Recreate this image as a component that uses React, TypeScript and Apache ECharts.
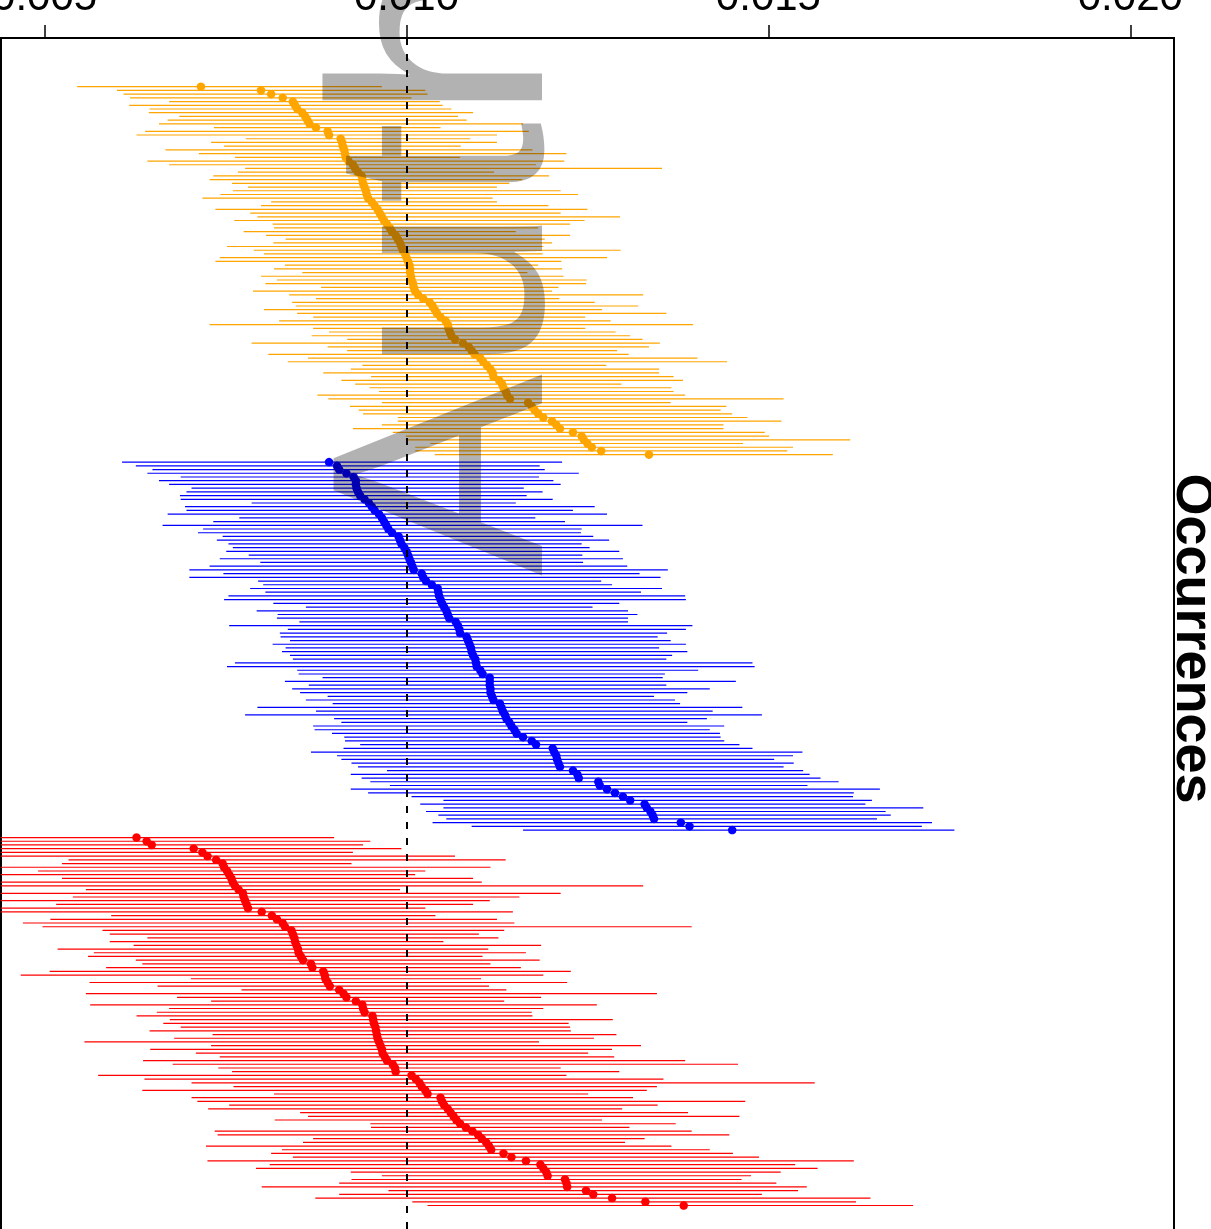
import React, { useEffect, useRef } from "react";
import * as echarts from "echarts";

// x-axis tick values and reference (true) value
const tickValues = [0.005, 0.01, 0.015, 0.02];
const trueValue = 0.01;

// Group 1 (orange): estimates and interval bounds, sorted by estimate
const orangeEst = [0.00716, 0.00799, 0.00813, 0.00829, 0.00843, 0.00846, 0.00849, 0.00856, 0.00860, 0.00863,
  0.00866, 0.00875, 0.00891, 0.00893, 0.00909, 0.00911, 0.00912, 0.00914, 0.00915, 0.00916,
  0.00920, 0.00926, 0.00929, 0.00933, 0.00938, 0.00939, 0.00940, 0.00942, 0.00944, 0.00945,
  0.00947, 0.00952, 0.00956, 0.00960, 0.00963, 0.00966, 0.00969, 0.00973, 0.00977, 0.00980,
  0.00985, 0.00988, 0.00991, 0.00993, 0.00995, 0.00998, 0.01000, 0.01002, 0.01004, 0.01005,
  0.01005, 0.01006, 0.01007, 0.01009, 0.01010, 0.01012, 0.01016, 0.01023, 0.01032, 0.01036,
  0.01039, 0.01042, 0.01047, 0.01054, 0.01057, 0.01058, 0.01060, 0.01062, 0.01067, 0.01078,
  0.01086, 0.01090, 0.01094, 0.01102, 0.01106, 0.01111, 0.01116, 0.01119, 0.01120, 0.01128,
  0.01132, 0.01134, 0.01137, 0.01139, 0.01143, 0.01168, 0.01173, 0.01177, 0.01182, 0.01189,
  0.01201, 0.01207, 0.01212, 0.01230, 0.01242, 0.01245, 0.01250, 0.01256, 0.01269, 0.01335];
const orangeLo = [0.00545, 0.00600, 0.00609, 0.00618, 0.00672, 0.00617, 0.00645, 0.00644, 0.00686, 0.00670,
  0.00658, 0.00734, 0.00639, 0.00627, 0.00778, 0.00730, 0.00748, 0.00667, 0.00713, 0.00763,
  0.00642, 0.00672, 0.00777, 0.00767, 0.00733, 0.00728, 0.00759, 0.00781, 0.00760, 0.00743,
  0.00718, 0.00813, 0.00799, 0.00736, 0.00784, 0.00794, 0.00762, 0.00815, 0.00817, 0.00775,
  0.00806, 0.00833, 0.00816, 0.00752, 0.00789, 0.00803, 0.00742, 0.00736, 0.00832, 0.00817,
  0.00856, 0.00799, 0.00821, 0.00805, 0.00882, 0.00788, 0.00838, 0.00875, 0.00842, 0.00847,
  0.00803, 0.00849, 0.00871, 0.00824, 0.00728, 0.00871, 0.00893, 0.00869, 0.00918, 0.00786,
  0.00891, 0.00918, 0.00809, 0.00864, 0.00836, 0.00939, 0.00923, 0.00885, 0.00951, 0.00910,
  0.00929, 0.00949, 0.00962, 0.00877, 0.00892, 0.00966, 0.00922, 0.00934, 0.00940, 0.00988,
  0.00988, 0.00966, 0.00926, 0.00981, 0.00999, 0.00999, 0.01033, 0.01012, 0.01012, 0.01039];
const orangeHi = [0.00966, 0.01026, 0.01029, 0.01007, 0.01046, 0.01050, 0.01062, 0.01092, 0.01071, 0.01083,
  0.01161, 0.01047, 0.01169, 0.01125, 0.01088, 0.01125, 0.01075, 0.01174, 0.01221, 0.01074,
  0.01218, 0.01179, 0.01353, 0.01121, 0.01197, 0.01160, 0.01142, 0.01125, 0.01213, 0.01237,
  0.01119, 0.01125, 0.01196, 0.01250, 0.01213, 0.01295, 0.01246, 0.01226, 0.01182, 0.01151,
  0.01226, 0.01191, 0.01201, 0.01189, 0.01296, 0.01188, 0.01277, 0.01214, 0.01182, 0.01215,
  0.01167, 0.01217, 0.01249, 0.01248, 0.01210, 0.01201, 0.01327, 0.01211, 0.01260, 0.01320,
  0.01270, 0.01359, 0.01247, 0.01282, 0.01396, 0.01247, 0.01289, 0.01309, 0.01326, 0.01350,
  0.01335, 0.01291, 0.01307, 0.01402, 0.01443, 0.01276, 0.01349, 0.01349, 0.01369, 0.01382,
  0.01297, 0.01366, 0.01369, 0.01385, 0.01521, 0.01365, 0.01442, 0.01434, 0.01450, 0.01471,
  0.01518, 0.01438, 0.01438, 0.01495, 0.01501, 0.01613, 0.01465, 0.01534, 0.01526, 0.01589];

// Group 2 (blue)
const blueEst = [0.00893, 0.00904, 0.00907, 0.00917, 0.00927, 0.00930, 0.00930, 0.00931, 0.00933, 0.00936,
  0.00942, 0.00948, 0.00952, 0.00956, 0.00962, 0.00966, 0.00969, 0.00972, 0.00975, 0.00980,
  0.00989, 0.00991, 0.00993, 0.00997, 0.01000, 0.01002, 0.01004, 0.01006, 0.01008, 0.01010,
  0.01021, 0.01023, 0.01027, 0.01035, 0.01043, 0.01044, 0.01045, 0.01047, 0.01049, 0.01052,
  0.01055, 0.01057, 0.01059, 0.01068, 0.01071, 0.01073, 0.01074, 0.01083, 0.01085, 0.01087,
  0.01089, 0.01090, 0.01092, 0.01095, 0.01096, 0.01097, 0.01102, 0.01105, 0.01115, 0.01115,
  0.01115, 0.01116, 0.01116, 0.01118, 0.01120, 0.01129, 0.01131, 0.01133, 0.01136, 0.01138,
  0.01142, 0.01145, 0.01149, 0.01152, 0.01161, 0.01173, 0.01179, 0.01202, 0.01204, 0.01207,
  0.01208, 0.01210, 0.01212, 0.01230, 0.01236, 0.01238, 0.01265, 0.01267, 0.01277, 0.01288,
  0.01299, 0.01309, 0.01329, 0.01332, 0.01337, 0.01340, 0.01342, 0.01379, 0.01391, 0.01450];
const blueLo = [0.00607, 0.00626, 0.00649, 0.00642, 0.00688, 0.00658, 0.00672, 0.00703, 0.00696, 0.00687,
  0.00688, 0.00786, 0.00694, 0.00696, 0.00670, 0.00769, 0.00733, 0.00663, 0.00719, 0.00712,
  0.00746, 0.00738, 0.00754, 0.00760, 0.00751, 0.00782, 0.00742, 0.00798, 0.00728, 0.00700,
  0.00747, 0.00700, 0.00795, 0.00802, 0.00784, 0.00805, 0.00754, 0.00748, 0.00816, 0.00861,
  0.00793, 0.00822, 0.00821, 0.00852, 0.00755, 0.00836, 0.00825, 0.00826, 0.00839, 0.00815,
  0.00833, 0.00828, 0.00839, 0.00843, 0.00763, 0.00752, 0.00849, 0.00851, 0.00884, 0.00832,
  0.00865, 0.00842, 0.00853, 0.00891, 0.00861, 0.00898, 0.00794, 0.00875, 0.00777, 0.00900,
  0.00910, 0.00871, 0.00873, 0.00897, 0.00914, 0.00915, 0.00936, 0.00913, 0.00868, 0.00904,
  0.00910, 0.00924, 0.00933, 0.00973, 0.00923, 0.00938, 0.00950, 0.00977, 0.00923, 0.00947,
  0.01007, 0.01051, 0.01019, 0.01051, 0.01027, 0.01044, 0.01055, 0.01036, 0.01090, 0.01161];
const blueHi = [0.01215, 0.01184, 0.01191, 0.01238, 0.01183, 0.01203, 0.01213, 0.01162, 0.01188, 0.01166,
  0.01202, 0.01151, 0.01260, 0.01230, 0.01277, 0.01178, 0.01219, 0.01326, 0.01242, 0.01241,
  0.01258, 0.01280, 0.01242, 0.01253, 0.01294, 0.01243, 0.01299, 0.01244, 0.01305, 0.01361,
  0.01322, 0.01351, 0.01269, 0.01284, 0.01353, 0.01324, 0.01385, 0.01386, 0.01294, 0.01257,
  0.01306, 0.01319, 0.01306, 0.01306, 0.01395, 0.01386, 0.01360, 0.01347, 0.01365, 0.01386,
  0.01349, 0.01388, 0.01367, 0.01359, 0.01478, 0.01481, 0.01403, 0.01357, 0.01354, 0.01455,
  0.01359, 0.01419, 0.01388, 0.01342, 0.01371, 0.01378, 0.01464, 0.01423, 0.01491, 0.01415,
  0.01388, 0.01439, 0.01419, 0.01433, 0.01434, 0.01439, 0.01460, 0.01478, 0.01547, 0.01534,
  0.01508, 0.01535, 0.01521, 0.01548, 0.01557, 0.01572, 0.01597, 0.01554, 0.01654, 0.01618,
  0.01617, 0.01643, 0.01634, 0.01714, 0.01662, 0.01669, 0.01650, 0.01726, 0.01712, 0.01757];

// Group 3 (red)
const redEst = [0.00627, 0.00641, 0.00648, 0.00706, 0.00718, 0.00725, 0.00737, 0.00746, 0.00748, 0.00752,
  0.00755, 0.00758, 0.00760, 0.00763, 0.00768, 0.00774, 0.00775, 0.00777, 0.00779, 0.00781,
  0.00800, 0.00814, 0.00821, 0.00829, 0.00832, 0.00841, 0.00843, 0.00845, 0.00846, 0.00848,
  0.00850, 0.00851, 0.00854, 0.00857, 0.00868, 0.00870, 0.00885, 0.00887, 0.00888, 0.00891,
  0.00894, 0.00907, 0.00913, 0.00917, 0.00930, 0.00939, 0.00940, 0.00942, 0.00953, 0.00954,
  0.00955, 0.00957, 0.00958, 0.00959, 0.00960, 0.00962, 0.00964, 0.00966, 0.00967, 0.00970,
  0.00973, 0.00981, 0.00984, 0.00985, 0.01007, 0.01013, 0.01018, 0.01021, 0.01026, 0.01029,
  0.01047, 0.01049, 0.01052, 0.01057, 0.01061, 0.01065, 0.01069, 0.01074, 0.01082, 0.01091,
  0.01099, 0.01104, 0.01110, 0.01114, 0.01117, 0.01134, 0.01145, 0.01165, 0.01185, 0.01189,
  0.01193, 0.01195, 0.01219, 0.01221, 0.01222, 0.01248, 0.01258, 0.01284, 0.01330, 0.01383];
const redLo = [0.00397, 0.00422, 0.00376, 0.00411, 0.00362, 0.00427, 0.00533, 0.00524, 0.00404, 0.00491,
  0.00383, 0.00524, 0.00418, 0.00355, 0.00557, 0.00431, 0.00539, 0.00390, 0.00516, 0.00414,
  0.00369, 0.00592, 0.00508, 0.00470, 0.00497, 0.00580, 0.00590, 0.00642, 0.00590, 0.00623,
  0.00518, 0.00568, 0.00560, 0.00626, 0.00635, 0.00585, 0.00507, 0.00467, 0.00702, 0.00562,
  0.00656, 0.00772, 0.00557, 0.00683, 0.00730, 0.00563, 0.00672, 0.00655, 0.00627, 0.00673,
  0.00664, 0.00688, 0.00645, 0.00732, 0.00679, 0.00555, 0.00730, 0.00646, 0.00709, 0.00742,
  0.00636, 0.00677, 0.00740, 0.00759, 0.00574, 0.00638, 0.00703, 0.00761, 0.00635, 0.00817,
  0.00703, 0.00711, 0.00755, 0.00726, 0.00853, 0.00864, 0.00818, 0.00950, 0.00951, 0.00735,
  0.00739, 0.00871, 0.00857, 0.00723, 0.00828, 0.00813, 0.00843, 0.00725, 0.00811, 0.00792,
  0.00923, 0.00966, 0.00924, 0.00907, 0.00800, 0.00975, 0.00907, 0.00874, 0.01008, 0.01029];
const redHi = [0.00900, 0.00950, 0.00940, 0.00993, 0.00926, 0.01067, 0.01137, 0.00924, 0.01116, 0.01026,
  0.01012, 0.01092, 0.01104, 0.01327, 0.00991, 0.01213, 0.01156, 0.01115, 0.01092, 0.01026,
  0.01147, 0.01040, 0.01125, 0.01149, 0.01394, 0.01135, 0.01100, 0.01127, 0.01051, 0.01186,
  0.01113, 0.01165, 0.01105, 0.01184, 0.01116, 0.01158, 0.01227, 0.01189, 0.01103, 0.01222,
  0.01114, 0.01138, 0.01346, 0.01186, 0.01135, 0.01263, 0.01189, 0.01173, 0.01174, 0.01285,
  0.01224, 0.01226, 0.01227, 0.01290, 0.01259, 0.01183, 0.01324, 0.01284, 0.01251, 0.01287,
  0.01385, 0.01458, 0.01213, 0.01294, 0.01221, 0.01355, 0.01564, 0.01346, 0.01332, 0.01251,
  0.01313, 0.01468, 0.01347, 0.01298, 0.01389, 0.01460, 0.01270, 0.01372, 0.01308, 0.01394,
  0.01446, 0.01329, 0.01302, 0.01366, 0.01419, 0.01451, 0.01487, 0.01618, 0.01537, 0.01568,
  0.01517, 0.01476, 0.01463, 0.01511, 0.01553, 0.01541, 0.01491, 0.01641, 0.01621, 0.01700];

const axisTitle = "Occurrences";
const watermark = "Author Manuscript";

const groups = [
  { color: "#FFA500", est: orangeEst, lo: orangeLo, hi: orangeHi, offset: 0 },
  { color: "#0000FF", est: blueEst, lo: blueLo, hi: blueHi, offset: 101 },
  { color: "#FF0000", est: redEst, lo: redLo, hi: redHi, offset: 202 },
];

const W = 1211;
const H = 1290;

export default function App() {
  const ref = useRef<HTMLDivElement>(null);

  useEffect(() => {
    document.documentElement.style.overflow = "hidden";
    document.body.style.overflow = "hidden";
    document.body.style.margin = "0";
    if (!ref.current) return;
    const chart = echarts.init(ref.current, null, { renderer: "svg" });

    const barData: number[][] = [];
    groups.forEach((g, gi) => {
      g.est.forEach((_, i) => {
        barData.push([g.lo[i], g.hi[i], g.offset + i, gi]);
      });
    });

    const scatterSeries = groups.map((g, gi) => ({
      type: "scatter",
      data: g.est.map((v, i) => [v, g.offset + i]),
      symbol: "circle",
      symbolSize: 8.5,
      itemStyle: { color: g.color, opacity: 1 },
      z: 3,
      silent: true,
      ...(gi === 1
        ? {
            markLine: {
              silent: true,
              symbol: ["none", "none"],
              label: { show: false },
              lineStyle: { color: "#000", width: 2, type: [7, 9], opacity: 1 },
              data: [{ xAxis: trueValue }],
              z: 5,
            },
          }
        : {}),
    }));

    const option: any = {
      animation: false,
      grid: {
        left: 1,
        right: 37,
        top: 38,
        bottom: 30,
        containLabel: false,
        outerBoundsMode: "none",
        show: true,
        borderColor: "#000",
        borderWidth: 2,
        backgroundColor: "transparent",
      },
      xAxis: {
        type: "value",
        position: "top",
        min: 0.0043976,
        max: 0.0206038,
        axisLine: { show: true, onZero: false, lineStyle: { color: "#000", width: 2 } },
        axisTick: {
          show: true,
          customValues: tickValues,
          length: 13,
          inside: false,
          lineStyle: { color: "#000", width: 1.5 },
        },
        axisLabel: {
          show: true,
          customValues: tickValues,
          formatter: (v: number) => v.toFixed(3),
          fontSize: 42,
          fontFamily: "Liberation Sans, Arial, sans-serif",
          color: "#000",
          margin: 22,
          hideOverlap: false,
        },
        splitLine: { show: false },
      },
      yAxis: {
        type: "value",
        inverse: true,
        min: -13.1,
        max: 315.66,
        show: false,
        axisLine: { onZero: false },
        splitLine: { show: false },
      },
      series: [
        {
          type: "custom",
          data: barData,
          encode: { x: [0, 1], y: 2 },
          clip: true,
          silent: true,
          z: 2,
          renderItem: (params: any, api: any) => {
            const lo = api.value(0);
            const hi = api.value(1);
            const row = api.value(2);
            const gi = api.value(3);
            const p1 = api.coord([lo, row]);
            const p2 = api.coord([hi, row]);
            return {
              type: "line",
              shape: { x1: p1[0], y1: p1[1], x2: p2[0], y2: p2[1] },
              style: { stroke: groups[gi].color, lineWidth: 1.2 },
            };
          },
        },
        ...scatterSeries,
      ],
      graphic: [
        {
          type: "text",
          x: 437,
          y: 576,
          rotation: Math.PI / 2,
          z: 100,
          silent: true,
          style: {
            text: watermark,
            fontSize: 303,
            fontFamily: "Liberation Sans, Arial, sans-serif",
            fill: "rgba(0,0,0,0.3)",
            align: "left",
            verticalAlign: "middle",
          },
        },
        {
          type: "text",
          x: 1196,
          y: 638.5,
          rotation: -Math.PI / 2,
          z: 100,
          silent: true,
          style: {
            text: axisTitle,
            fontSize: 54,
            fontWeight: "bold",
            fontFamily: "Liberation Sans, Arial, sans-serif",
            fill: "#000",
            align: "center",
            verticalAlign: "middle",
          },
        },
      ],
    };

    chart.setOption(option);
    return () => chart.dispose();
  }, []);

  return (
    <div
      ref={ref}
      style={{ position: "fixed", left: 0, top: 0, width: W, height: H }}
    />
  );
}
